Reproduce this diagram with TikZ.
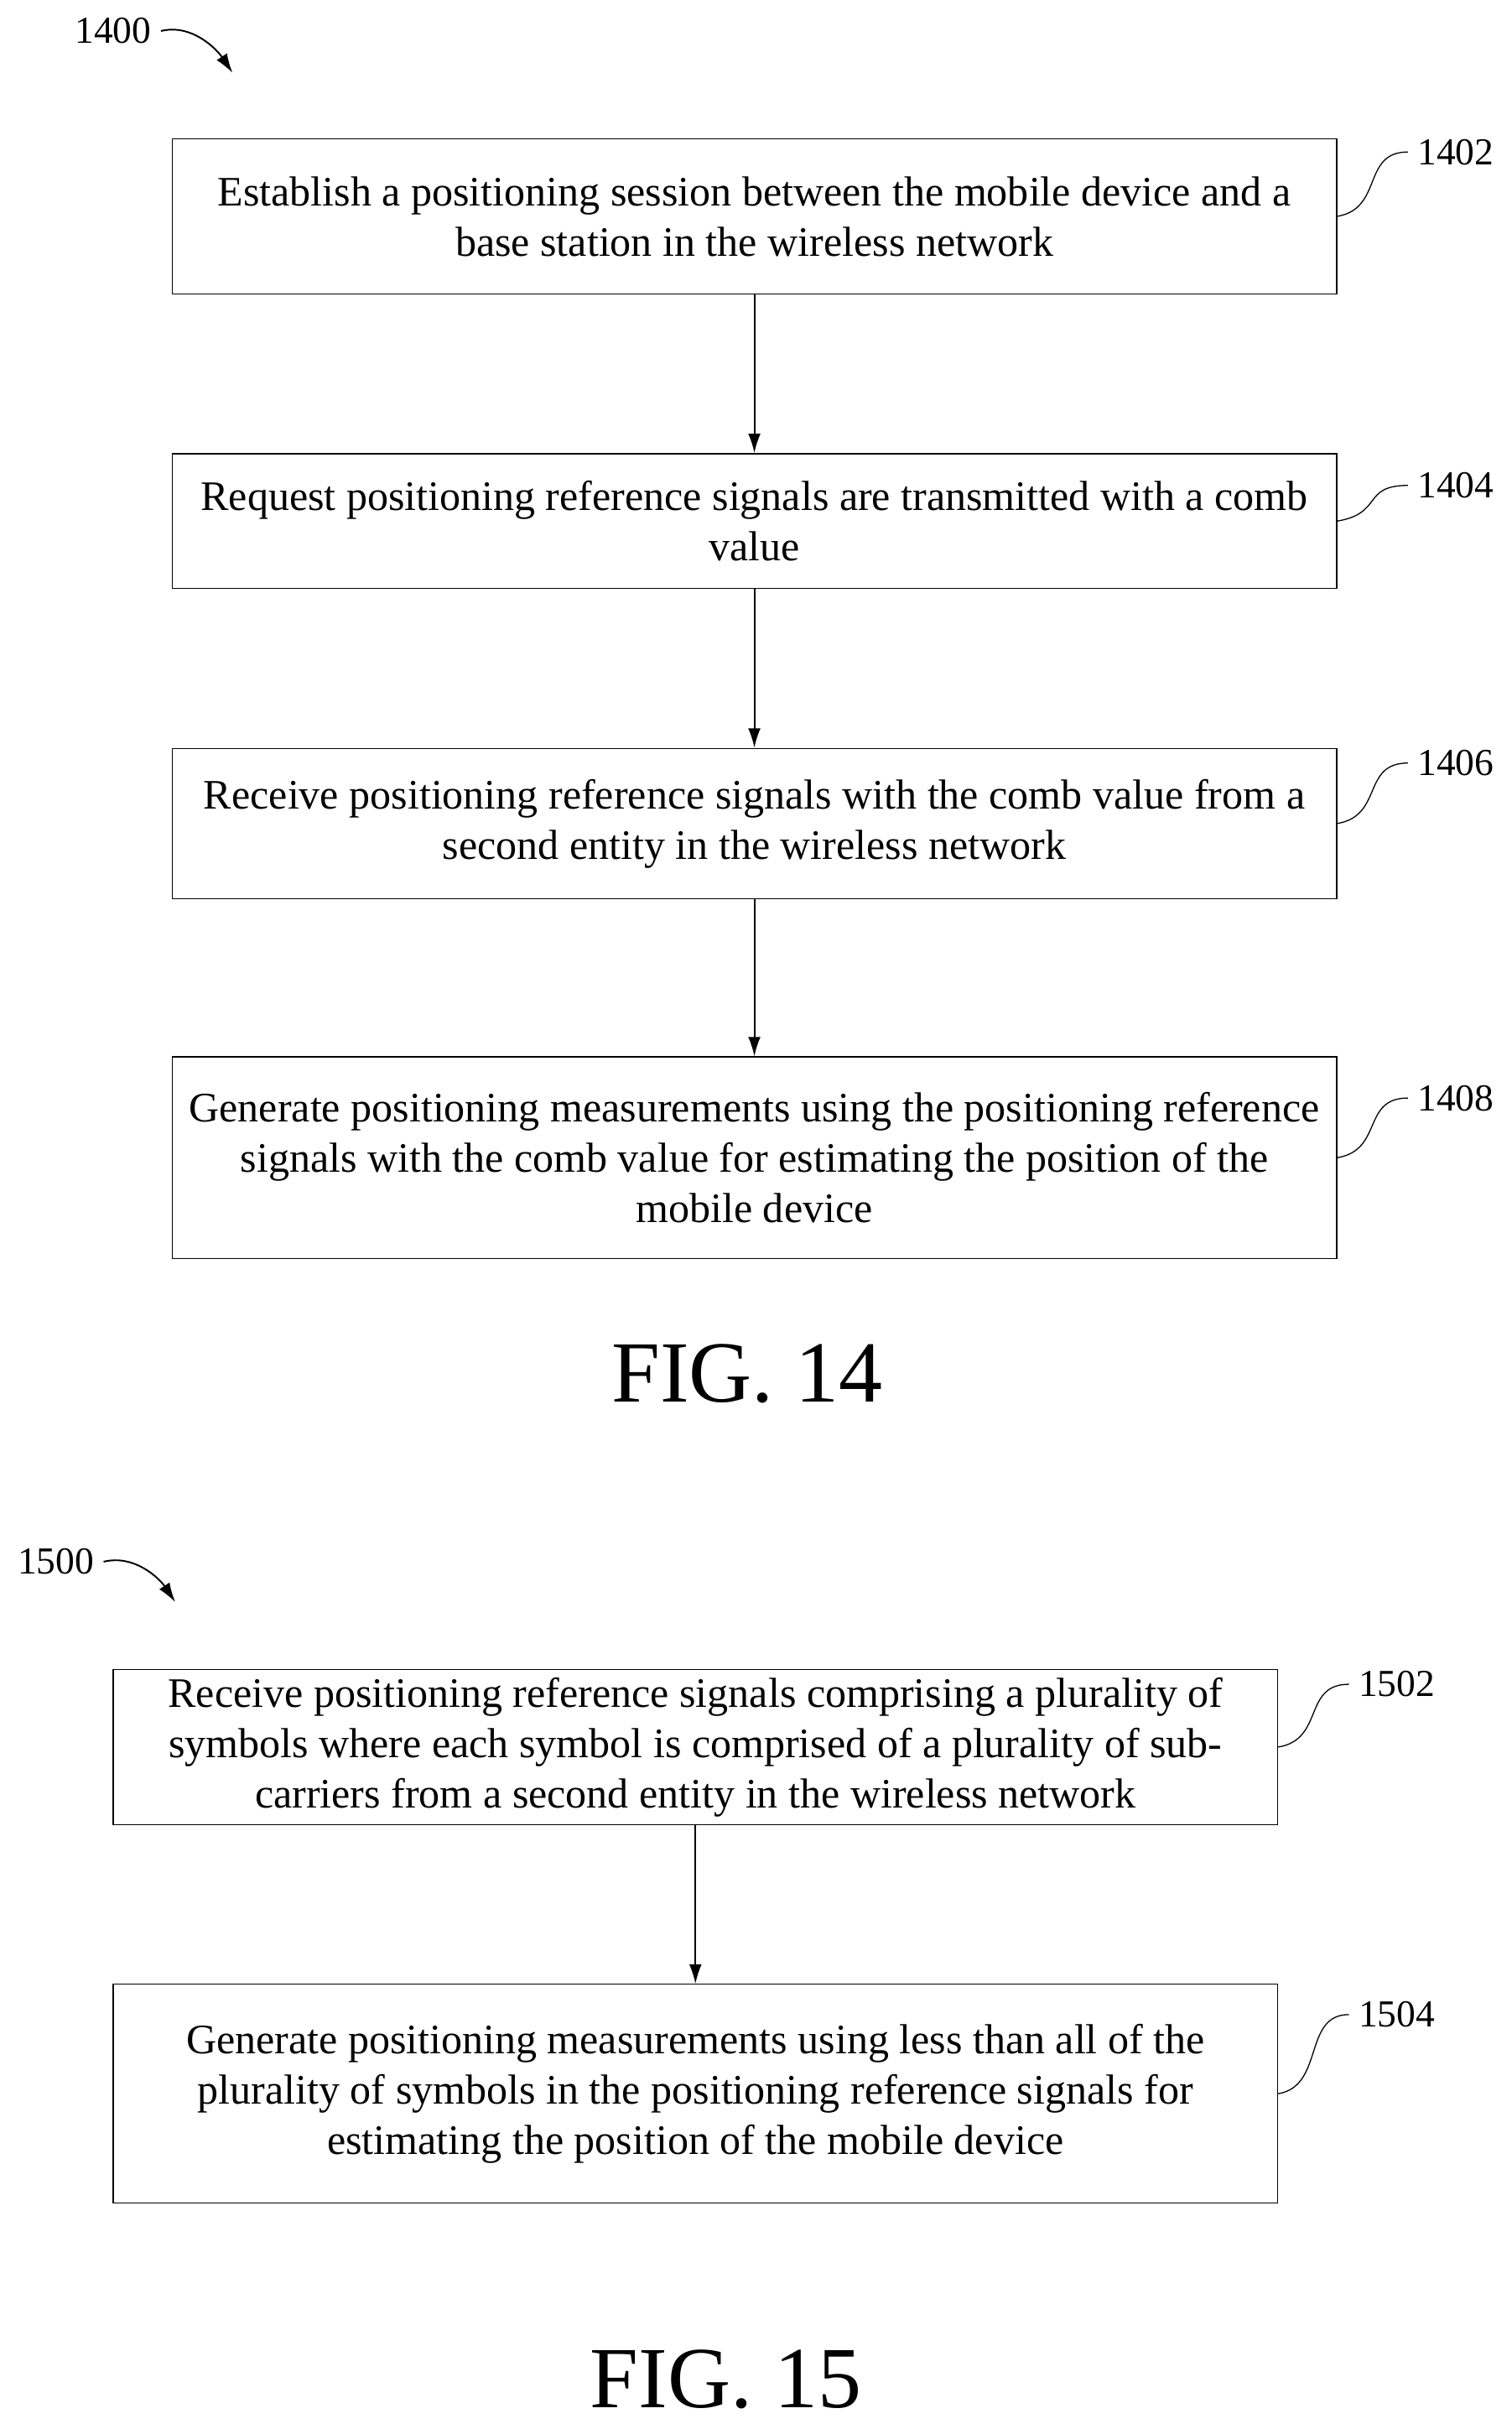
\documentclass[tikz,border=0pt]{standalone}
\usepackage{fontspec}
\setmainfont{Liberation Serif}
\usetikzlibrary{arrows.meta}
\begin{document}
\begin{tikzpicture}[x=0.2mm,y=-0.2mm,
  stepbox/.style={draw, thin, align=center, font=\fontsize{15.4}{18.5}\selectfont, inner sep=0pt},
  ref/.style={font=\fontsize{14}{16}\selectfont, anchor=west},
  flow/.style={-{Latex[length=2.5mm,width=1.6mm]}, semithick},
  fig/.style={font=\fontsize{32}{36}\selectfont}]
\useasboundingbox (0,0) rectangle (975,1563);
% FIG. 14
\node (n1400) at (73,20) {\fontsize{14}{16}\selectfont 1400};
\coordinate (a1400) at (150,47);
\draw[flow] (n1400.east) .. controls +(20,-5) and +(-10,-15) .. (a1400);
\node[stepbox, minimum width=150.2mm, minimum height=20mm] (b1402) at (486.5,139.5) {Establish a positioning session between the mobile device and a\\base station in the wireless network};
\node[stepbox, minimum width=150.2mm, minimum height=17.4mm] (b1404) at (486.5,336) {Request positioning reference signals are transmitted with a comb\\value};
\node[stepbox, minimum width=150.2mm, minimum height=19.4mm] (b1406) at (486.5,531) {Receive positioning reference signals with the comb value from a\\second entity in the wireless network};
\node[stepbox, minimum width=150.2mm, minimum height=26mm] (b1408) at (486.5,746.5) {Generate positioning measurements using the positioning reference\\signals with the comb value for estimating the position of the\\mobile device};
\draw[flow] (b1402) -- (b1404);
\draw[flow] (b1404) -- (b1406);
\draw[flow] (b1406) -- (b1408);
\node[ref] (n1402) at (908,98) {1402};
\node[ref] (n1404) at (908,313) {1404};
\node[ref] (n1406) at (908,492) {1406};
\node[ref] (n1408) at (908,708) {1408};
\foreach \b/\l in {b1402/n1402,b1404/n1404,b1406/n1406,b1408/n1408}
  \draw (\b.east) .. controls +(30,-5) and +(-30,0) .. (\l.west);
\node[fig] (f14) at (482,886) {FIG. 14};
% FIG. 15
\node (n1500) at (36,1007) {\fontsize{14}{16}\selectfont 1500};
\coordinate (a1500) at (113,1033);
\draw[flow] (n1500.east) .. controls +(20,-5) and +(-10,-15) .. (a1500);
\node[stepbox, minimum width=150.2mm, minimum height=20mm] (b1502) at (448.5,1126.5) {Receive positioning reference signals comprising a plurality of\\symbols where each symbol is comprised of a plurality of sub-\\carriers from a second entity in the wireless network};
\node[stepbox, minimum width=150.2mm, minimum height=28.2mm] (b1504) at (448.5,1350) {Generate positioning measurements using less than all of the\\plurality of symbols in the positioning reference signals for\\estimating the position of the mobile device};
\draw[flow] (b1502) -- (b1504);
\node[ref] (n1502) at (870,1086) {1502};
\node[ref] (n1504) at (870,1299) {1504};
\foreach \b/\l in {b1502/n1502,b1504/n1504}
  \draw (\b.east) .. controls +(30,-5) and +(-30,0) .. (\l.west);
\node[fig] (f15) at (468,1534) {FIG. 15};
\end{tikzpicture}
\end{document}
